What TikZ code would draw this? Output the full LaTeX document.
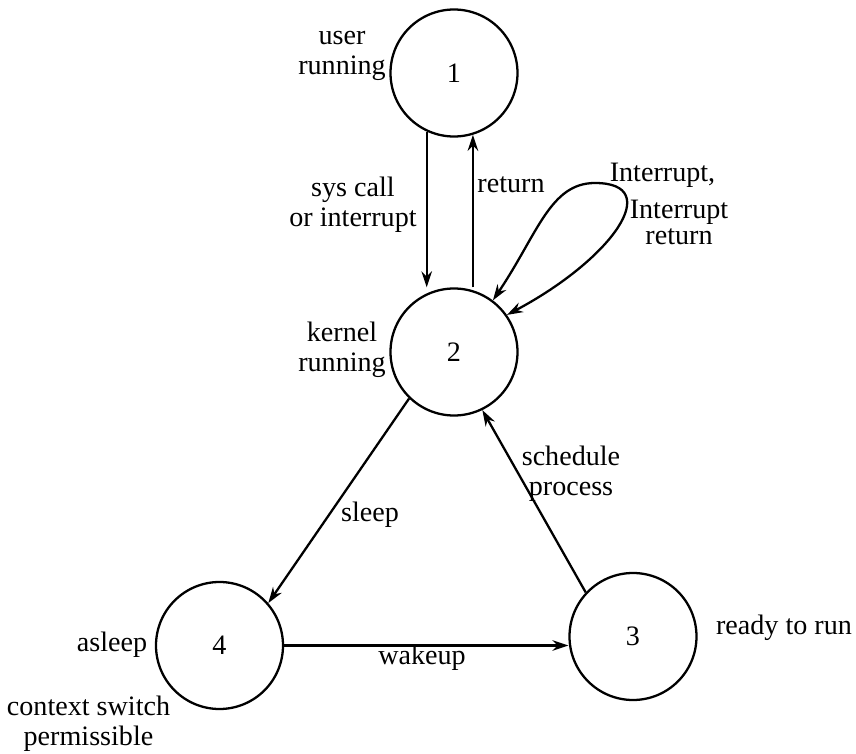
\documentclass[tikz,border=0pt]{standalone}
\usepackage{fontspec}
\setmainfont{Liberation Serif}
\usetikzlibrary{arrows.meta}

\begin{document}
\begin{tikzpicture}[draw=black, line width=1.3pt, >={Stealth[length=3.2mm,width=2.1mm]},
  every node/.style={font=\fontsize{16}{17}\selectfont},
  state/.style={circle, draw, minimum size=2.54cm, inner sep=0pt},
  lbl/.style={align=center, inner sep=0pt}]
\useasboundingbox (0,0) rectangle (17.12,15.06);

\node[state] (s1) at (9.08,13.60) {1};
\node[lbl] (usr) at (6.84,13.94) {user\\running};

\node[state] (s2) at (9.08,8.02) {2};
\node[lbl] (krn) at (6.84,8.06) {kernel\\running};

\node[state] (s3) at (12.66,2.33) {3};
\node[lbl] (rdy) at (15.68,2.50) {ready to run};

\node[state] (s4) at (4.39,2.15) {4};
\node[lbl] (asl) at (2.24,2.16) {asleep};
\node[lbl] (ctx) at (1.77,0.58) {context switch\\permissible};

\draw[->] (s1.245) -- (s1.245 |- s2.north);
\node[lbl] (sys) at (7.06,10.96) {sys call\\or interrupt};
\draw[->] (s2.north -| s1.287) -- (s1.287);
\node[lbl] (ret) at (10.22,11.36) {return};

\coordinate (looptop) at (11.90,11.40);% top of the self loop
\draw[<->] (s2.53) .. controls +(56:1.6) and +(180:0.9) .. (looptop)
  .. controls +(0:1.4) and +(28:2.4) .. (s2.35);
\node[lbl] (intr) at (13.25,11.56) {Interrupt,};
\node[lbl, font=\fontsize{16}{14.5}\selectfont] (iret) at (13.58,10.61) {Interrupt\\return};

\draw[->] (s2.226) -- (s4.41);
\node[lbl] (slp) at (7.40,4.76) {sleep};

\draw[->] (s3.137) -- (s2.296);
\node[lbl] (sch) at (11.42,5.58) {schedule\\process};

\draw[->] (s4) -- (s4 -| s3.west);
\node[lbl] (wak) at (8.44,1.90) {wakeup};
\end{tikzpicture}
\end{document}
